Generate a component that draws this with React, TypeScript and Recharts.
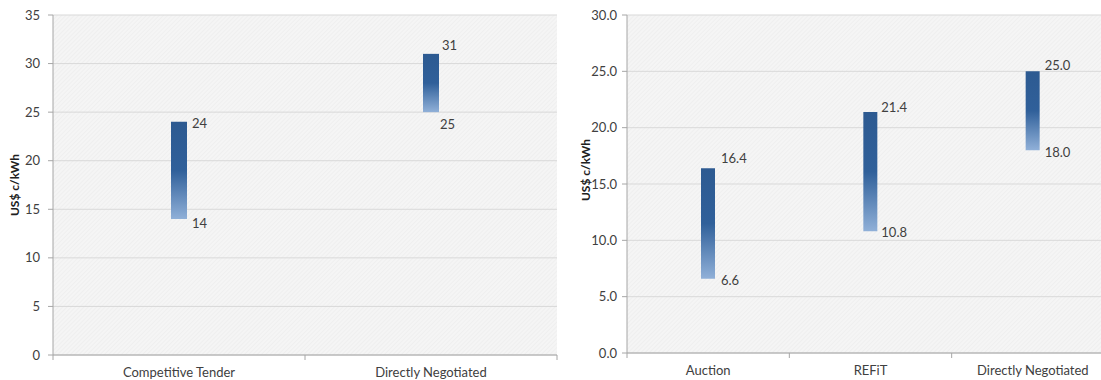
import React from 'react';
import { BarChart, Bar, XAxis, YAxis, CartesianGrid, LabelList } from 'recharts';

// left chart
const leftCategories = ['Competitive Tender', 'Directly Negotiated'];
const leftLow = [14, 25];
const leftHigh = [24, 31];
const leftTicks = [0, 5, 10, 15, 20, 25, 30, 35];

// right chart
const rightCategories = ['Auction', 'REFiT', 'Directly Negotiated'];
const rightLow = [6.6, 10.8, 18.0];
const rightHigh = [16.4, 21.4, 25.0];
const rightTicks = [0, 5, 10, 15, 20, 25, 30];

const yTitle = 'US$ c/kWh';

// label nudges [dx, dy] relative to bar right edge / top or bottom (Excel had them hand placed)
const leftHighOff = [[5, 1.5], [3, -9]];
const leftLowOff = [[5, 3.5], [1, 12]];
const rightHighOff = [[6, -10], [4, -5], [5, -6]];
const rightLowOff = [[6, 1.5], [4, 1], [5, 1.5]];

const FONT = 'Lato, "Open Sans", sans-serif';
const TXT = '#404040';

const toRows = (cats: string[], lo: number[], hi: number[]) =>
  cats.map((c, i) => ({ name: c, range: [lo[i], hi[i]] }));

type PanelProps = {
  id: string;
  rows: { name: string; range: number[] }[];
  ticks: number[];
  max: number;
  width: number;
  axisWidth: number;
  marginRight: number;
  bottom: number;
  barSize: number;
  titleX: number;
  titleDy: number;
  decimals: number;
  highOff: number[][];
  lowOff: number[][];
};

const Panel = (p: PanelProps) => {
  const bw = (p.width - p.axisWidth - p.marginRight) / p.rows.length;

  const CatTick = (props: any) => {
    const { x, y, payload, index } = props;
    const last = index === p.rows.length - 1;
    return (
      <g>
        <line x1={x - bw / 2} x2={x - bw / 2} y1={y} y2={y + 5} stroke="#a6a6a6" />
        {last && <line x1={x + bw / 2} x2={x + bw / 2} y1={y} y2={y + 5} stroke="#a6a6a6" />}
        <text x={x} y={y + 17} textAnchor="middle" dominantBaseline="central" fontSize={13} fontFamily={FONT} fill={TXT}>
          {payload.value}
        </text>
      </g>
    );
  };

  const RangeLabels = (props: any) => {
    const { x, y, width, height, index } = props;
    const row = p.rows[index];
    const top = Math.min(y, y + height);
    const bot = Math.max(y, y + height);
    const right = x + width;
    const [hdx, hdy] = p.highOff[index];
    const [ldx, ldy] = p.lowOff[index];
    return (
      <g fontSize={13} fontFamily={FONT} fill={TXT}>
        <text x={right + hdx} y={top + hdy} dominantBaseline="central">{row.range[1].toFixed(p.decimals)}</text>
        <text x={right + ldx} y={bot + ldy} dominantBaseline="central">{row.range[0].toFixed(p.decimals)}</text>
      </g>
    );
  };

  const Title = (props: any) => {
    const vb = props.viewBox;
    const cx = vb.x + p.titleX;
    const cy = vb.y + vb.height / 2 + p.titleDy;
    return (
      <text x={cx} y={cy} transform={`rotate(-90 ${cx} ${cy})`} textAnchor="middle" dominantBaseline="central"
        fontSize={12} fontWeight="bold" fontFamily={FONT} fill="#202020">
        {yTitle}
      </text>
    );
  };

  return (
    <BarChart width={p.width} height={380} data={p.rows}
      margin={{ top: 15, right: p.marginRight, left: 0, bottom: 0 }}>
      <defs>
        <pattern id={`hatch-${p.id}`} width="3" height="3" patternUnits="userSpaceOnUse" patternTransform="rotate(45)">
          <rect width="3" height="3" fill="#f5f5f5" />
          <line x1="0" y1="0" x2="0" y2="3" stroke="#e9e9e9" strokeWidth="1" />
        </pattern>
        <linearGradient id={`bar-${p.id}`} x1="0" y1="0" x2="0" y2="1">
          <stop offset="0%" stopColor="#2d5a91" />
          <stop offset="50%" stopColor="#30609a" />
          <stop offset="100%" stopColor="#90b0d8" />
        </linearGradient>
      </defs>
      <CartesianGrid vertical={false} stroke="#d9d9d9" fill={`url(#hatch-${p.id})`} fillOpacity={1} />
      <XAxis dataKey="name" height={p.bottom} tickLine={false} tickSize={0} tickMargin={0}
        axisLine={{ stroke: '#a6a6a6' }} tick={<CatTick />} interval={0} />
      <YAxis width={p.axisWidth} domain={[0, p.max]} ticks={p.ticks} interval={0}
        tickFormatter={(v: number) => v.toFixed(p.decimals)}
        tick={{ fontSize: 13, fontFamily: FONT, fill: TXT }} tickSize={5}
        tickLine={{ stroke: '#a6a6a6' }} axisLine={{ stroke: '#a6a6a6' }}
        tickMargin={p.decimals ? 5 : 8}
        label={<Title />} />
      <Bar dataKey="range" barSize={p.barSize} fill={`url(#bar-${p.id})`} isAnimationActive={false}>
        <LabelList dataKey="range" content={<RangeLabels />} />
      </Bar>
    </BarChart>
  );
};

export default function App() {
  return (
    <div style={{ position: 'absolute', left: 0, top: 0, width: 1101, height: 380, overflow: 'hidden', background: '#fff' }}>
      <div style={{ position: 'absolute', left: 0, top: 0 }}>
        <Panel id="l" rows={toRows(leftCategories, leftLow, leftHigh)} ticks={leftTicks} max={35}
          width={560} axisWidth={53} marginRight={3} bottom={25} barSize={16}
          titleX={14} titleDy={0} decimals={0} highOff={leftHighOff} lowOff={leftLowOff} />
      </div>
      <div style={{ position: 'absolute', left: 560, top: 0 }}>
        <Panel id="r" rows={toRows(rightCategories, rightLow, rightHigh)} ticks={rightTicks} max={30}
          width={560} axisWidth={67} marginRight={6} bottom={27} barSize={14}
          titleX={25} titleDy={-14} decimals={1} highOff={rightHighOff} lowOff={rightLowOff} />
      </div>
    </div>
  );
}
